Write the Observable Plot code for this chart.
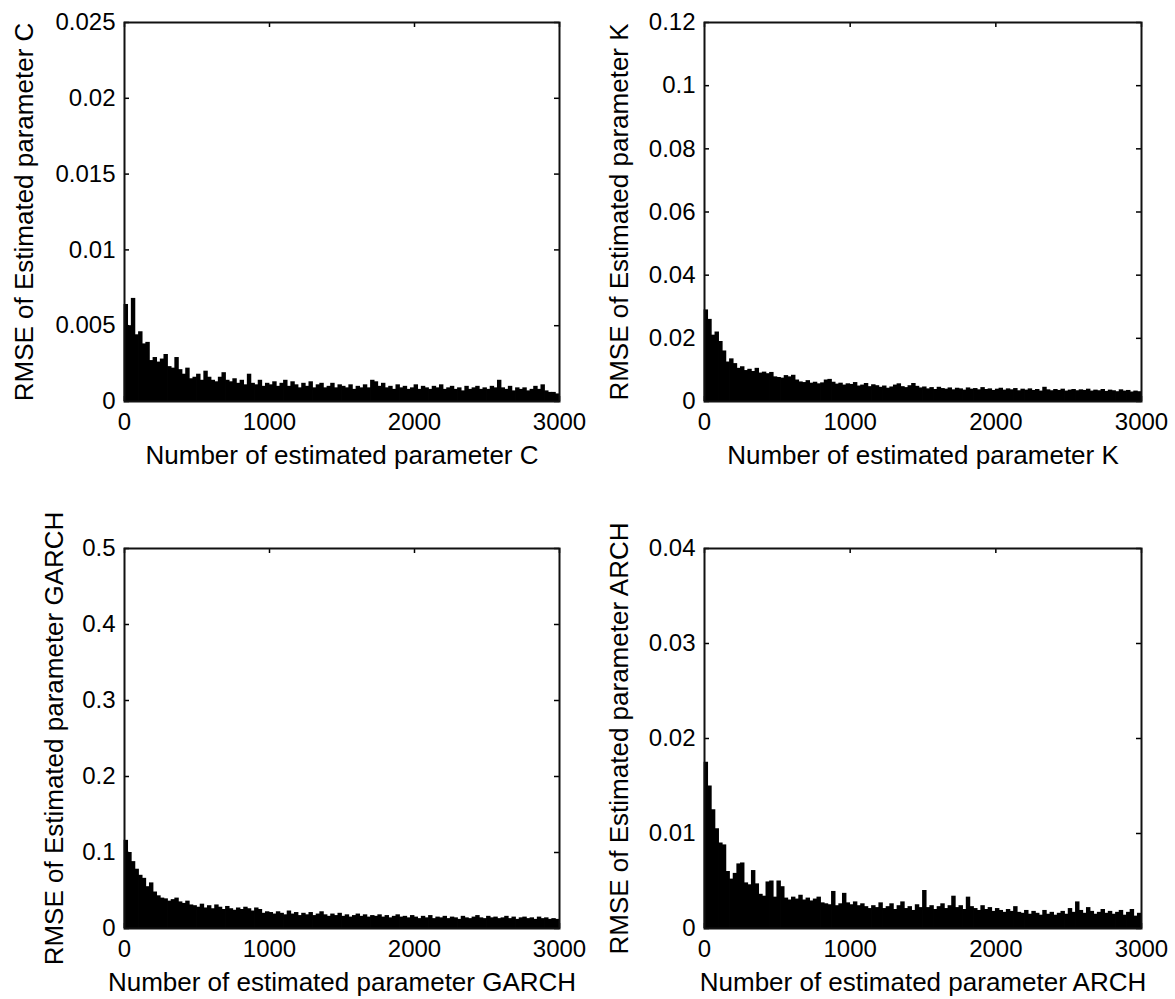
<!DOCTYPE html>
<html><head><meta charset="utf-8">
<script src="https://cdn.jsdelivr.net/npm/d3@7"></script>
<script src="https://cdn.jsdelivr.net/npm/@observablehq/plot@0.6"></script>
<style>
html,body{margin:0;padding:0;background:#fff;}
#root{position:relative;width:1175px;height:999px;overflow:hidden;background:#fff;}
#root svg{position:absolute;}
</style></head><body><div id="root"></div>
<script>
// x positions: number of estimates, binned every 25 estimates (upper envelope of RMSE per bin)
const xTicks = [0, 1000, 2000, 3000];
const binWidth = 25;

const rmseC = [
0.0064,0.0050,0.0068,0.0044,0.0046,0.0038,0.0039,0.0027,0.0029,0.0026,
0.0028,0.0031,0.0023,0.0022,0.0029,0.0021,0.0018,0.0022,0.0015,0.0016,
0.0018,0.0014,0.0020,0.0016,0.0014,0.0013,0.0016,0.0019,0.0014,0.0013,
0.0015,0.0012,0.0014,0.0011,0.0018,0.0012,0.0011,0.0014,0.0010,0.0012,
0.0011,0.0013,0.0010,0.0012,0.0014,0.0010,0.0013,0.0011,0.0009,0.0012,
0.0010,0.0013,0.0009,0.0011,0.0012,0.0009,0.0010,0.0012,0.0009,0.0011,
0.0010,0.0009,0.0011,0.0008,0.0010,0.0009,0.0011,0.0009,0.0014,0.0013,
0.0010,0.0012,0.0009,0.0010,0.0008,0.0011,0.0009,0.0010,0.0008,0.0009,
0.0011,0.0008,0.0010,0.0009,0.0008,0.0010,0.0009,0.0011,0.0008,0.0009,
0.0010,0.0008,0.0009,0.0007,0.0010,0.0008,0.0009,0.0010,0.0008,0.0009,
0.0008,0.0010,0.0009,0.0014,0.0009,0.0008,0.0010,0.0007,0.0009,0.0008,
0.0009,0.0007,0.0008,0.0010,0.0008,0.0011,0.0007,0.0006,0.0006,0.0005];

const rmseK = [
0.029,0.026,0.021,0.022,0.019,0.016,0.0125,0.0135,0.012,0.0105,
0.0110,0.0098,0.0102,0.0095,0.0105,0.0090,0.0093,0.0088,0.0092,0.0078,
0.0076,0.0074,0.0082,0.0078,0.0083,0.0068,0.0062,0.0060,0.0066,0.0058,
0.0061,0.0056,0.0059,0.0068,0.0070,0.0061,0.0055,0.0058,0.0052,0.0056,
0.0054,0.0060,0.0049,0.0052,0.0057,0.0047,0.0053,0.0050,0.0045,0.0049,
0.0042,0.0046,0.0052,0.0056,0.0047,0.0044,0.0050,0.0057,0.0048,0.0043,
0.0046,0.0040,0.0044,0.0038,0.0045,0.0041,0.0039,0.0043,0.0037,0.0042,
0.0040,0.0036,0.0043,0.0039,0.0041,0.0037,0.0044,0.0038,0.0040,0.0035,
0.0039,0.0042,0.0036,0.0040,0.0037,0.0041,0.0034,0.0039,0.0036,0.0040,
0.0035,0.0038,0.0033,0.0045,0.0037,0.0034,0.0038,0.0035,0.0039,0.0033,
0.0036,0.0038,0.0034,0.0037,0.0035,0.0039,0.0033,0.0036,0.0034,0.0038,
0.0032,0.0036,0.0034,0.0031,0.0037,0.0033,0.0035,0.0030,0.0033,0.0031];

const rmseGARCH = [
0.116,0.100,0.088,0.078,0.070,0.066,0.055,0.060,0.048,0.043,
0.040,0.039,0.036,0.038,0.040,0.035,0.033,0.036,0.031,0.030,
0.028,0.032,0.027,0.030,0.026,0.031,0.028,0.025,0.029,0.026,
0.024,0.027,0.025,0.028,0.026,0.023,0.027,0.025,0.020,0.022,
0.021,0.019,0.022,0.020,0.018,0.023,0.019,0.021,0.017,0.020,
0.018,0.021,0.017,0.019,0.022,0.018,0.016,0.019,0.017,0.020,
0.016,0.018,0.015,0.017,0.019,0.016,0.018,0.015,0.017,0.016,
0.018,0.015,0.017,0.014,0.016,0.018,0.015,0.016,0.014,0.017,
0.015,0.013,0.016,0.014,0.017,0.013,0.015,0.014,0.016,0.013,
0.015,0.014,0.012,0.016,0.014,0.013,0.015,0.017,0.014,0.013,
0.016,0.014,0.015,0.013,0.014,0.016,0.013,0.015,0.012,0.014,
0.015,0.013,0.014,0.012,0.015,0.013,0.014,0.012,0.013,0.012];

const rmseARCH = [
0.0175,0.0150,0.0125,0.0105,0.0090,0.0088,0.0060,0.0052,0.0058,0.0068,
0.0069,0.0048,0.0046,0.0061,0.0047,0.0036,0.0034,0.0049,0.0050,0.0033,
0.0050,0.0044,0.0032,0.0030,0.0033,0.0031,0.0035,0.0030,0.0032,0.0029,
0.0031,0.0033,0.0027,0.0026,0.0025,0.0039,0.0024,0.0026,0.0037,0.0027,
0.0025,0.0028,0.0024,0.0026,0.0023,0.0021,0.0024,0.0022,0.0027,0.0021,
0.0023,0.0026,0.0020,0.0024,0.0028,0.0021,0.0023,0.0019,0.0025,0.0022,
0.0040,0.0022,0.0024,0.0020,0.0023,0.0026,0.0021,0.0024,0.0034,0.0022,
0.0024,0.0020,0.0033,0.0023,0.0021,0.0019,0.0024,0.0020,0.0022,0.0018,
0.0021,0.0019,0.0017,0.0020,0.0018,0.0023,0.0017,0.0016,0.0019,0.0015,
0.0018,0.0016,0.0014,0.0019,0.0015,0.0017,0.0014,0.0016,0.0018,0.0015,
0.0021,0.0017,0.0028,0.0019,0.0016,0.0022,0.0018,0.0015,0.0017,0.0020,
0.0016,0.0018,0.0015,0.0017,0.0019,0.0014,0.0017,0.0020,0.0013,0.0016];

const yTicksC = [0, 0.005, 0.01, 0.015, 0.02, 0.025];
const yTicksK = [0, 0.02, 0.04, 0.06, 0.08, 0.1, 0.12];
const yTicksGARCH = [0, 0.1, 0.2, 0.3, 0.4, 0.5];
const yTicksARCH = [0, 0.01, 0.02, 0.03, 0.04];

const xLabels = ["Number of estimated parameter C", "Number of estimated parameter K",
                 "Number of estimated parameter GARCH", "Number of estimated parameter ARCH"];
const yLabels = ["RMSE of Estimated parameter C", "RMSE of Estimated parameter K",
                 "RMSE of Estimated parameter GARCH", "RMSE of Estimated parameter ARCH"];

const panels = [
  {values: rmseC, yTicks: yTicksC, xLabel: xLabels[0], yLabel: yLabels[0],
   left: 0, top: 0, width: 587, height: 499, m: {top: 22, right: 28, bottom: 98, left: 124}, ylDx: -100},
  {values: rmseK, yTicks: yTicksK, xLabel: xLabels[1], yLabel: yLabels[1],
   left: 587, top: 0, width: 588, height: 499, m: {top: 22, right: 34, bottom: 98, left: 117}, ylDx: -85},
  {values: rmseGARCH, yTicks: yTicksGARCH, xLabel: xLabels[2], yLabel: yLabels[2],
   left: 0, top: 499, width: 587, height: 500, m: {top: 49, right: 28, bottom: 71, left: 124}, ylDx: -70},
  {values: rmseARCH, yTicks: yTicksARCH, xLabel: xLabels[3], yLabel: yLabels[3],
   left: 587, top: 499, width: 588, height: 500, m: {top: 49, right: 34, bottom: 71, left: 117}, ylDx: -85}
];

const root = document.getElementById("root");
const FONT = "'Liberation Sans', Arial, Helvetica, sans-serif";
const tickLen = 5;

for (const p of panels) {
  const data = p.values.map((v, i) => ({x1: i * binWidth, x2: (i + 1) * binWidth, y: v}));
  const innerW = p.width - p.m.left - p.m.right;
  const innerH = p.height - p.m.top - p.m.bottom;
  const yMax = p.yTicks[p.yTicks.length - 1];
  const svg = Plot.plot({
    width: p.width, height: p.height,
    marginTop: p.m.top, marginRight: p.m.right, marginBottom: p.m.bottom, marginLeft: p.m.left,
    x: {domain: [0, 3000], axis: null},
    y: {domain: [0, yMax], axis: null},
    style: {fontFamily: FONT, fontSize: "24px", color: "#000", background: "transparent", overflow: "visible"},
    marks: [
      Plot.rectY(data, {x1: "x1", x2: "x2", y: "y", fill: "#000", insetLeft: -0.4, insetRight: -0.4}),
      Plot.tickX(xTicks, {x: d => d, insetTop: innerH - tickLen, stroke: "#000", strokeWidth: 1.5}),
      Plot.tickX(xTicks, {x: d => d, insetBottom: innerH - tickLen, stroke: "#000", strokeWidth: 1.5}),
      Plot.tickY(p.yTicks, {y: d => d, insetRight: innerW - tickLen, stroke: "#000", strokeWidth: 1.5}),
      Plot.tickY(p.yTicks, {y: d => d, insetLeft: innerW - tickLen, stroke: "#000", strokeWidth: 1.5}),
      Plot.frame({stroke: "#111", strokeWidth: 2}),
      Plot.axisX(xTicks, {tickSize: 0, tickPadding: 11, tickFormat: d => String(d), fontSize: 24, label: null, fill: "#000"}),
      Plot.axisY(p.yTicks, {tickSize: 0, tickPadding: 9, tickFormat: d => String(d), fontSize: 24, label: null, fill: "#000"}),
      Plot.text([p.xLabel], {text: d => d, frameAnchor: "bottom", textAnchor: "middle", dy: 54, fontSize: 26, lineAnchor: "middle", fill: "#000"}),
      Plot.text([p.yLabel], {text: d => d, frameAnchor: "left", textAnchor: "middle", rotate: -90, dx: p.ylDx, fontSize: 26, lineAnchor: "middle", fill: "#000"})
    ]
  });
  svg.style.left = p.left + "px";
  svg.style.top = p.top + "px";
  root.appendChild(svg);
}
</script></body></html>
